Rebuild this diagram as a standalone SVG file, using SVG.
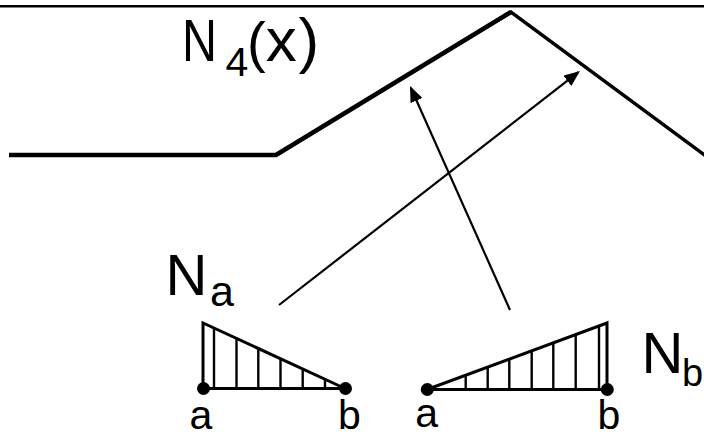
<svg xmlns="http://www.w3.org/2000/svg" width="704" height="438" viewBox="0 0 704 438">
<style>
.lbl{font-family:"Liberation Sans",Arial,sans-serif;fill:#000}
.curve{fill:none;stroke:#000;stroke-linejoin:miter}
.tri{fill:none;stroke:#000;stroke-width:3;stroke-linejoin:miter}
.hatch{stroke:#000;stroke-width:2.4}
.dot{fill:#000}
.arrow{fill:none;stroke:#000;stroke-width:2.2}
</style>
<defs>
<marker id="ah" markerUnits="userSpaceOnUse" markerWidth="17" markerHeight="14" refX="14" refY="6.5" orient="auto">
<path d="M0,0 L16,6.5 L0,13 z" fill="#000"/>
</marker>
</defs>
<rect x="0" y="0" width="704" height="438" fill="#fff"/>
<line x1="0" y1="6.2" x2="704" y2="6.2" stroke="#000" stroke-width="2.6"/>

<g id="N4">
<path class="curve" d="M9,155 L276,155 L511,12 L722,168" stroke-width="3.5"/>
<path class="curve" d="M9,155 L276,155 L511,12" stroke-width="4.6"/>
<text class="lbl" font-size="60"><tspan x="182" y="61" textLength="35" lengthAdjust="spacingAndGlyphs">N</tspan><tspan x="225.5" y="76" font-size="41">4</tspan><tspan x="247" y="61" font-size="56">(</tspan><tspan x="265.7" y="61" font-size="62">x</tspan><tspan x="298.5" y="61" font-size="62">)</tspan></text>
</g>

<g id="Na">
<path class="tri" d="M203,388.5 L203,323 L345,388.5 Z"/>
<g class="hatch">
<line x1="214" y1="328" x2="214" y2="388.5"/>
<line x1="236.5" y1="338.4" x2="236.5" y2="388.5"/>
<line x1="258.3" y1="348.4" x2="258.3" y2="388.5"/>
<line x1="280.5" y1="358.6" x2="280.5" y2="388.5"/>
<line x1="302.7" y1="368.8" x2="302.7" y2="388.5"/>
<line x1="325" y1="379" x2="325" y2="388.5"/>
</g>
<circle class="dot" cx="203.5" cy="388.5" r="6.5"/>
<circle class="dot" cx="345.5" cy="388.5" r="6.5"/>
<text class="lbl" font-size="58"><tspan x="165.6" y="295">N</tspan><tspan x="210" y="306" font-size="43">a</tspan></text>
<text class="lbl" font-size="41" text-anchor="middle" x="201" y="429">a</text>
<text class="lbl" font-size="41" text-anchor="middle" x="349.5" y="429">b</text>
</g>

<g id="Nb">
<path class="tri" d="M427,389.5 L607,389.5 L607,323 Z"/>
<g class="hatch">
<line x1="465.7" y1="375.3" x2="465.7" y2="389.5"/>
<line x1="487.7" y1="367.1" x2="487.7" y2="389.5"/>
<line x1="509.3" y1="359.1" x2="509.3" y2="389.5"/>
<line x1="531.7" y1="350.8" x2="531.7" y2="389.5"/>
<line x1="553.3" y1="342.8" x2="553.3" y2="389.5"/>
<line x1="575.7" y1="334.5" x2="575.7" y2="389.5"/>
<line x1="599" y1="325.9" x2="599" y2="389.5"/>
</g>
<circle class="dot" cx="427.3" cy="389.5" r="6.5"/>
<circle class="dot" cx="607.3" cy="389.5" r="6.5"/>
<text class="lbl" font-size="58"><tspan x="641.5" y="373">N</tspan><tspan x="682" y="386" font-size="38">b</tspan></text>
<text class="lbl" font-size="41" text-anchor="middle" x="426.7" y="427">a</text>
<text class="lbl" font-size="41" text-anchor="middle" x="609" y="429">b</text>
</g>

<g id="connectors">
<line class="arrow" x1="279" y1="305" x2="578.4" y2="72.2" marker-end="url(#ah)"/>
<line class="arrow" x1="510" y1="310" x2="410.8" y2="87.8" marker-end="url(#ah)"/>
</g>
</svg>
